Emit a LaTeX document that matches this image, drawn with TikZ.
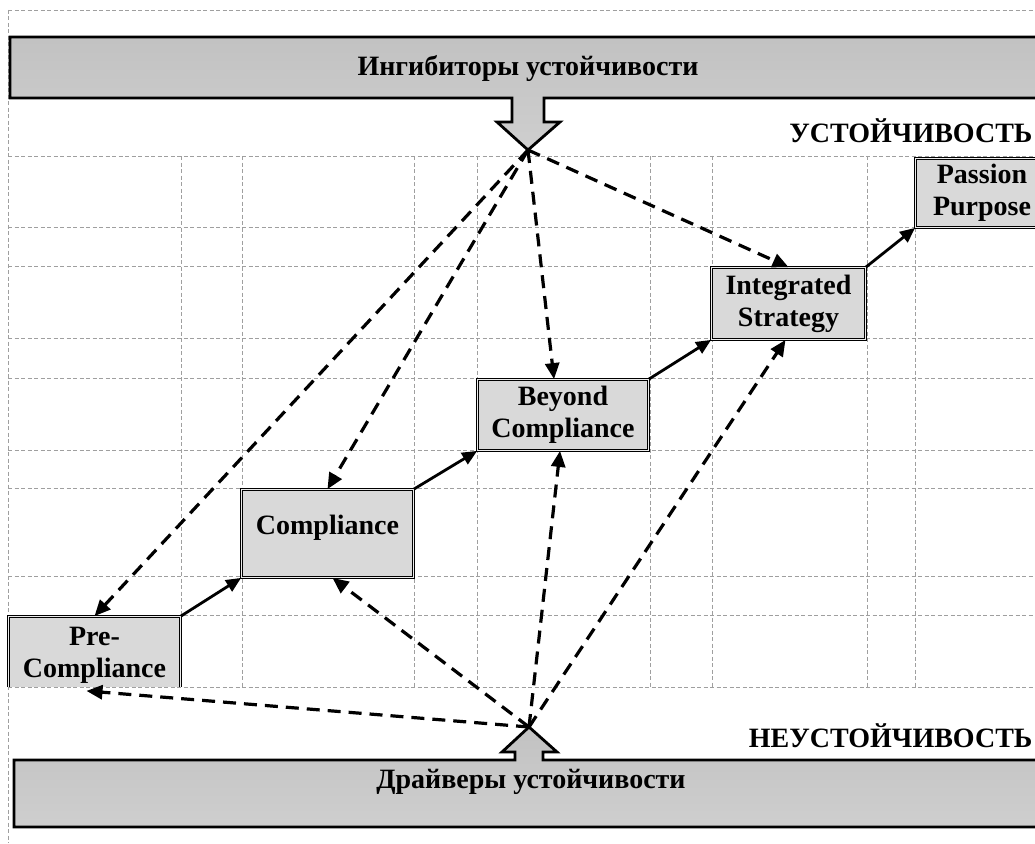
\documentclass[tikz,border=0pt]{standalone}
\usepackage{fontspec}
\setmainfont{Liberation Serif}
\usetikzlibrary{arrows.meta}
\begin{document}
\begin{tikzpicture}[x=1pt,y=-1pt,
  gridline/.style={draw=gray!75, line width=0.9pt, dash pattern=on 4pt off 2.5pt},
  stagebox/.style={draw=black, line width=1.1pt, double=white!85!gray, double distance=1.3pt,
    fill=gray!30, font=\fontsize{28}{32}\selectfont\bfseries, align=center, inner sep=0pt},
  banner/.style={draw=black, line width=2.8pt, top color=gray!48, bottom color=gray!38, line join=miter},
  bannertext/.style={font=\fontsize{28}{32}\selectfont\bfseries},
  influence/.style={draw=black, line width=3.2pt, dash pattern=on 13pt off 8pt,
    -{Triangle[length=16pt,width=14pt]}},
  stair/.style={draw=black, line width=2.8pt, -{Triangle[length=15pt,width=13pt]}}
]
\clip (0,0) rectangle (1035,843);
\useasboundingbox (0,0) rectangle (1035,843);

% outer dashed border
\draw[gridline] (8,10) -- (1035,10);
\draw[gridline] (8,10) -- (8,843);
% grid
\foreach \yy in {156,227,266,338,378,450,488,576,615,687}
  \draw[gridline] (8,\yy) -- (1035,\yy);
\foreach \xx in {181,242,414,477,650,712,867,915}
  \draw[gridline] (\xx,156) -- (\xx,687);

% banners
\path[banner] (10,37) -- (1048,37) -- (1048,98) -- (544,98) -- (544,122) -- (560,122)
  -- (528,150) -- (497,122) -- (512,122) -- (512,98) -- (10,98) -- cycle;
\node[bannertext, anchor=base] (inhib) at (528,75) {Ингибиторы устойчивости};
\coordinate (T) at (528,150);

\path[banner] (14,760) -- (515,760) -- (515,752) -- (502,752) -- (529,727) -- (557,752)
  -- (543,752) -- (543,760) -- (1048,760) -- (1048,827) -- (14,827) -- cycle;
\node[bannertext, anchor=base] (driv) at (531,788) {Драйверы устойчивости};
\coordinate (B) at (529,727);

\node[bannertext, anchor=base east] (sust) at (1036,142) {УСТОЙЧИВОСТЬ};
\node[bannertext, anchor=base east] (unsust) at (1036,747) {НЕУСТОЙЧИВОСТЬ};

% stage boxes
\begin{scope}
  \clip (0,0) rectangle (1035,686);
  \node[stagebox, minimum width=171.7pt, minimum height=76.7pt] (pre) at (94.5,655) {Pre-\\Compliance};
\end{scope}
\node[stagebox, minimum width=171.7pt, minimum height=87.7pt, text height=19pt, text depth=18pt] (comp) at (327.5,533.5) {Compliance};
\node[stagebox, minimum width=170.7pt, minimum height=70.7pt] (beyond) at (563,415) {Beyond\\Compliance};
\node[stagebox, minimum width=153.7pt, minimum height=71.7pt] (integ) at (788.5,303.5) {Integrated\\Strategy};
\node[stagebox, minimum width=132.7pt, minimum height=68.7pt] (passion) at (982,193) {Passion\\Purpose};

% stair arrows
\draw[stair] (pre.north east) -- (comp.south west);
\draw[stair] (comp.north east) -- (beyond.south west);
\draw[stair] (beyond.north east) -- (integ.south west);
\draw[stair] (integ.north east) -- (passion.south west);

% inhibitor influences
\draw[influence] (T) -- (pre.north);
\draw[influence] (T) -- (comp.north);
\draw[influence] (T) -- ([xshift=-9pt]beyond.north);
\draw[influence] (T) -- (integ.north);

% driver influences
\draw[influence] (B) -- ([xshift=-8pt,yshift=3pt]pre.south);
\draw[influence] (B) -- ([xshift=5pt]comp.south);
\draw[influence] (B) -- ([xshift=-3pt]beyond.south);
\draw[influence] (B) -- ([xshift=-3pt]integ.south);
\end{tikzpicture}
\end{document}
